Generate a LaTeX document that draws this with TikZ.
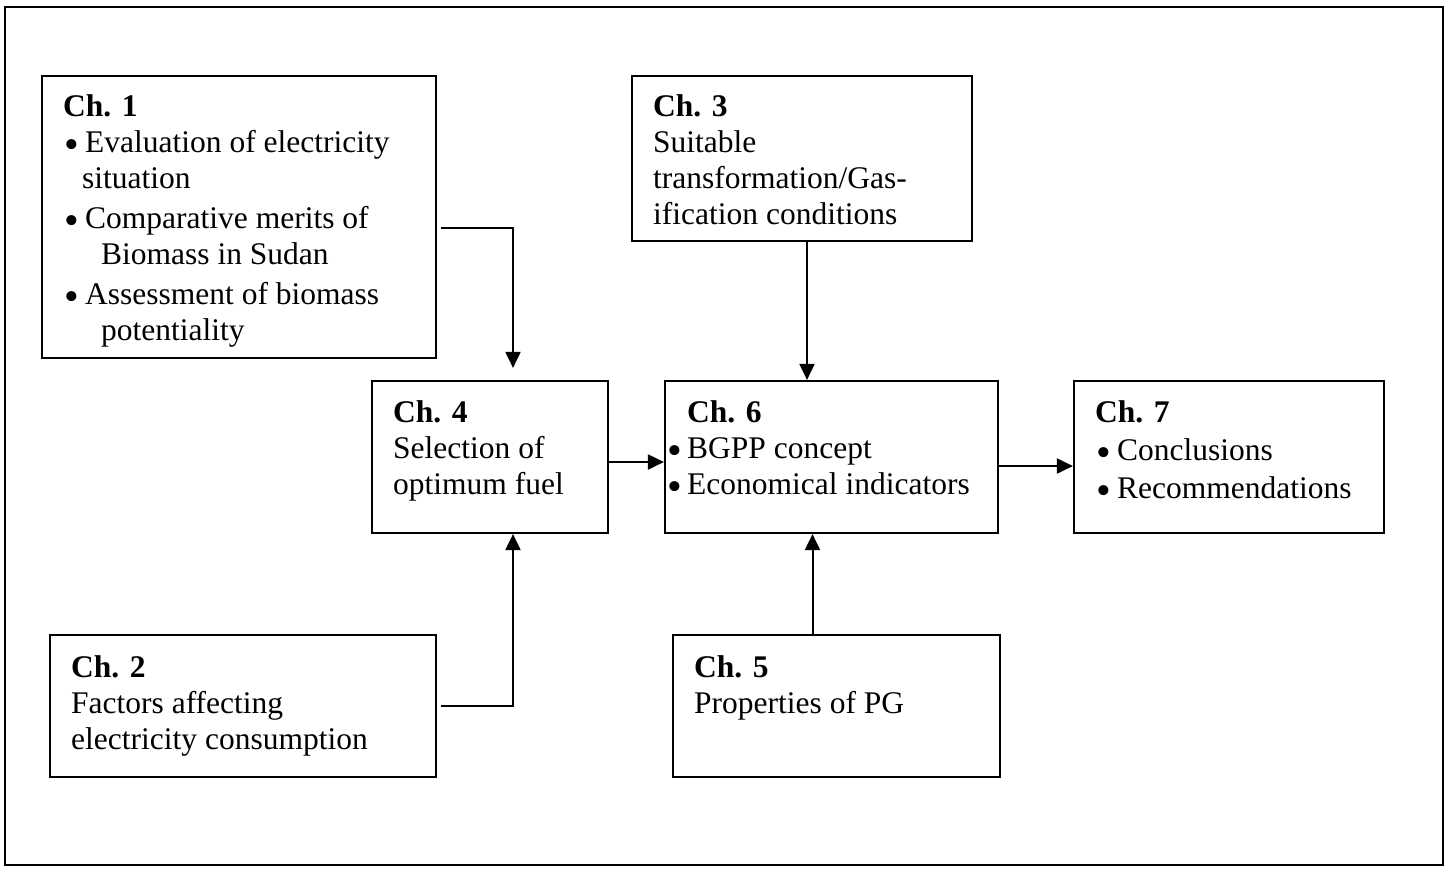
\documentclass[tikz,border=0pt]{standalone}
\usepackage{fontspec}
\setmainfont{Liberation Serif}
\usetikzlibrary{arrows.meta,calc}
\tikzset{
  box/.style={draw=black, line width=2.2pt, inner sep=0pt, rectangle},
  txt/.style={anchor=north west, inner sep=0pt, align=left, font=\fontsize{31.5}{36}\selectfont},
  arr/.style={line width=2pt, -{Triangle[length=16pt,width=15pt]}},
}
\newcommand{\bul}[1]{\makebox[#1][l]{\raisebox{-6pt}[0pt][0pt]{\fontsize{42}{36}\selectfont •}}}
\begin{document}
\begin{tikzpicture}[x=1pt,y=-1pt]
\useasboundingbox (0,0) rectangle (1450,868);
\draw[line width=2.2pt] (5,7) rectangle (1443,865);

% boxes
\node[box, minimum width=394, minimum height=282] (c1) at (239,217) {};
\node[box, minimum width=340, minimum height=165] (c3) at (802,158.5) {};
\node[box, minimum width=236, minimum height=152] (c4) at (490,457) {};
\node[box, minimum width=333, minimum height=152] (c6) at (831.5,457) {};
\node[box, minimum width=310, minimum height=152] (c7) at (1229,457) {};
\node[box, minimum width=386, minimum height=142] (c2) at (243,706) {};
\node[box, minimum width=327, minimum height=142] (c5) at (836.5,706) {};

% texts
\node[txt] (t1) at (63,90.8) {\strut\textbf{Ch. 1}\\
\hspace*{1pt}\bul{21pt}Evaluation of electricity\\
\hspace*{19pt}situation\\[4pt]
\hspace*{1pt}\bul{21pt}Comparative merits of\\
\hspace*{38pt}Biomass in Sudan\\[4pt]
\hspace*{1pt}\bul{21pt}Assessment of biomass\\
\hspace*{38pt}potentiality};

\node[txt] (t3) at (653,90.8) {\strut\textbf{Ch. 3}\\
Suitable\\
transformation/Gas-\\
ification conditions};

\node[txt] (t4) at (393,396.8) {\strut\textbf{Ch. 4}\\
Selection of\\
optimum fuel};

\node[txt] (t6) at (667,396.8) {\strut\hspace*{20pt}\textbf{Ch. 6}\\
\bul{20pt}BGPP concept\\
\bul{20pt}Economical indicators};

\node[txt] (t7) at (1095,396.8) {\strut\textbf{Ch. 7}\\[2pt]
\hspace*{1pt}\bul{21pt}Conclusions\\[2pt]
\hspace*{1pt}\bul{21pt}Recommendations};

\node[txt] (t2) at (71,651.8) {\strut\textbf{Ch. 2}\\
Factors affecting\\
electricity consumption};

\node[txt] (t5) at (694,651.8) {\strut\textbf{Ch. 5}\\
Properties of PG};

% connectors
\draw[arr, shorten >=12pt] ([shift={(4,11)}]c1.east) -| ([shift={(23,0)}]c4.north);
\draw[arr] ([shift={(4,0)}]c2.east) -| ([shift={(23,0)}]c4.south);
\draw[arr] ([shift={(0,5)}]c4.east) -- ([shift={(0,5)}]c4.east -| c6.west);
\draw[arr] ([shift={(5,0)}]c3.south) -- ([shift={(5,0)}]c3.south |- c6.north);
\draw[arr] ([shift={(-24,0)}]c5.north) -- ([shift={(-24,0)}]c5.north |- c6.south);
\draw[arr] ([shift={(0,9)}]c6.east) -- ([shift={(0,9)}]c6.east -| c7.west);
\end{tikzpicture}
\end{document}
